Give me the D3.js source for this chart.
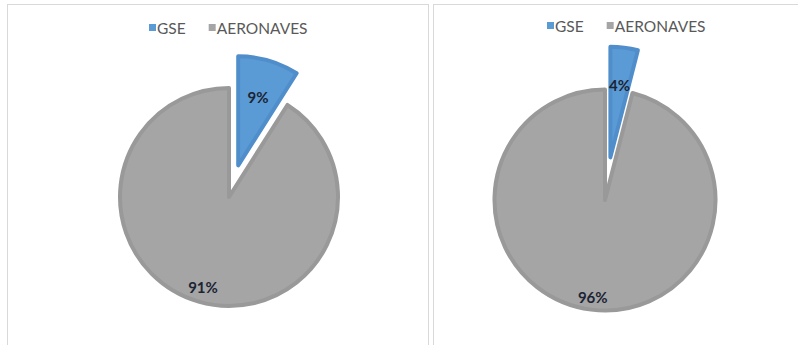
<!DOCTYPE html>
<html>
<head>
<meta charset="utf-8">
<script src="https://cdn.jsdelivr.net/npm/d3@7"></script>
<style>
  html, body { margin: 0; padding: 0; background: #fff; }
  svg { display: block; }
  .legend-text { font-family: Lato, "Open Sans", sans-serif; font-size: 15.5px; fill: #595959; }
  .slice-label { font-family: Lato, "Open Sans", sans-serif; font-size: 15px; font-weight: bold; fill: #1b2434; }
</style>
</head>
<body>
<div id="chart"></div>
<script>
/* ── data ─────────────────────────────────────────────────── */
const categories  = ['GSE', 'AERONAVES'];
const leftValues  = [9, 91];
const rightValues = [4, 96];
const labelsLeft  = ['9%', '91%'];
const labelsRight = ['4%', '96%'];

const fills   = ['#5b9bd5', '#a5a5a5'];
const borders = ['#4f8ecb', '#999999'];

/* ── layout ───────────────────────────────────────────────── */
const W = 798, H = 345;
const svg = d3.select('#chart').append('svg').attr('width', W).attr('height', H);

const panels = [
  { x: 7.5,   y: 4.5, w: 421, values: leftValues,  labels: labelsLeft,
    cx: 229, cy: 197, r: 111, explode: [33, 0], labelRatio: [0.64, 0.84],
    legendX: 149, legendY: 28 },
  { x: 433.5, y: 4.5, w: 380, values: rightValues, labels: labelsRight,
    cx: 605, cy: 200, r: 112.5, explode: [43, 0], labelRatio: [0.65, 0.87],
    legendX: 547, legendY: 26 },
];

const pie = d3.pie().sort(null).value(d => d);

panels.forEach(p => {
  // panel frame (bottom runs off the picture)
  svg.append('rect')
    .attr('x', p.x).attr('y', p.y).attr('width', p.w).attr('height', H + 10)
    .attr('fill', '#fff').attr('stroke', '#d9d9d9').attr('stroke-width', 1);

  const arcs = pie(p.values);
  const g = svg.append('g').attr('transform', `translate(${p.cx},${p.cy})`);

  arcs.forEach((a, i) => {
    const mid = (a.startAngle + a.endAngle) / 2;
    const dx = Math.sin(mid) * p.explode[i];
    const dy = -Math.cos(mid) * p.explode[i];
    const sg = g.append('g').attr('transform', `translate(${dx},${dy})`);

    const arc = d3.arc().innerRadius(0).outerRadius(p.r - 2);
    sg.append('path')
      .attr('d', arc(a))
      .attr('fill', fills[i])
      .attr('stroke', borders[i])
      .attr('stroke-width', 4)
      .attr('stroke-linejoin', 'round');

    const lr = p.r * p.labelRatio[i];
    sg.append('text').attr('class', 'slice-label')
      .attr('x', Math.sin(mid) * lr)
      .attr('y', -Math.cos(mid) * lr)
      .attr('text-anchor', 'middle')
      .attr('dominant-baseline', 'central')
      .text(p.labels[i]);
  });

  // legend
  const lg = svg.append('g').attr('transform', `translate(${p.legendX},${p.legendY})`);
  let xo = 0;
  categories.forEach((c, i) => {
    lg.append('rect').attr('x', xo).attr('y', -4).attr('width', 7).attr('height', 7)
      .attr('fill', fills[i]);
    const t = lg.append('text').attr('class', 'legend-text')
      .attr('x', xo + 8).attr('y', 0).attr('dominant-baseline', 'central')
      .text(c);
    xo += 8 + t.node().getComputedTextLength() + 23;
  });
});
</script>
</body>
</html>
